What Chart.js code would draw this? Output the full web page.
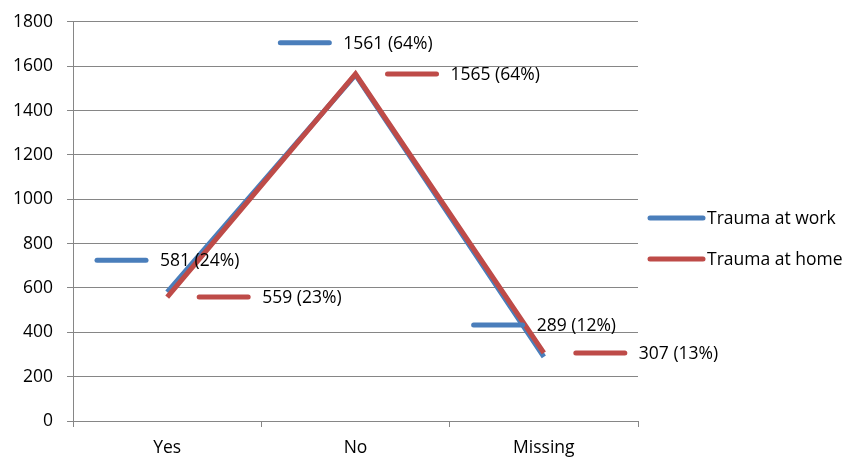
<!DOCTYPE html>
<html>
<head>
<meta charset="utf-8">
<script src="https://cdn.jsdelivr.net/npm/chart.js@4/dist/chart.umd.min.js"></script>
<style>
html,body{margin:0;padding:0;background:#fff;}
#wrap{width:865px;height:457px;position:relative;}
</style>
</head>
<body>
<div id="wrap"><canvas id="c" width="865" height="457"></canvas></div>
<script>
const categories = ["Yes", "No", "Missing"];
const seriesNames = ["Trauma at work", "Trauma at home"];
const workValues = [581, 1561, 289];
const homeValues = [559, 1565, 307];
const workPct = [24, 64, 12];
const homePct = [23, 64, 13];
const yTicks = [0, 200, 400, 600, 800, 1000, 1200, 1400, 1600, 1800];

const BLUE = "#4a7ebb";
const RED = "#be4b48";
const FONT = "'Open Sans', sans-serif";
const FS = 17.5;

const labelPlugin = {
  id: "dataLabelsKeys",
  afterDatasetsDraw(chart) {
    const ctx = chart.ctx;
    ctx.save();
    ctx.font = FS + "px " + FONT;
    ctx.textBaseline = "middle";
    ctx.fillStyle = "#000";
    ctx.lineCap = "round";
    ctx.lineWidth = 5;
    const keyLen = 53, gap = 12;
    chart.data.datasets.forEach((ds, di) => {
      const meta = chart.getDatasetMeta(di);
      meta.data.forEach((pt, i) => {
        const txt = ds.data[i] + " (" + ds.pct[i] + "%)";
        const tw = ctx.measureText(txt).width;
        let x0, y;
        if (ds.labelPos === "above") {
          const total = keyLen + gap + tw;
          x0 = pt.x - total / 2;
          y = pt.y - 32;
        } else {
          x0 = pt.x + 30;
          y = pt.y;
        }
        ctx.strokeStyle = ds.borderColor;
        ctx.beginPath();
        ctx.moveTo(x0 + 2, y);
        ctx.lineTo(x0 + keyLen - 2, y);
        ctx.stroke();
        ctx.fillText(txt, x0 + keyLen + gap, y + 1);
      });
    });
    // legend
    const items = [
      {name: seriesNames[0], color: BLUE, y: 218},
      {name: seriesNames[1], color: RED, y: 259}
    ];
    items.forEach(it => {
      ctx.strokeStyle = it.color;
      ctx.beginPath();
      ctx.moveTo(650, it.y);
      ctx.lineTo(703, it.y);
      ctx.stroke();
      ctx.fillText(it.name, 707, it.y + 1);
    });
    ctx.restore();
  }
};

new Chart(document.getElementById("c"), {
  type: "line",
  data: {
    labels: categories,
    datasets: [
      {label: seriesNames[0], data: workValues, pct: workPct, labelPos: "above",
       borderColor: BLUE, backgroundColor: BLUE, borderWidth: 5, pointRadius: 0,
       tension: 0, order: 1},
      {label: seriesNames[1], data: homeValues, pct: homePct, labelPos: "right",
       borderColor: RED, backgroundColor: RED, borderWidth: 5, pointRadius: 0,
       tension: 0, order: 0}
    ]
  },
  options: {
    responsive: false,
    animation: false,
    devicePixelRatio: 1,
    layout: {padding: {top: 0, left: -1, right: 227, bottom: -13}},
    plugins: {legend: {display: false}, tooltip: {enabled: false}},
    scales: {
      x: {
        offset: true,
        grid: {display: true, offset: true, drawOnChartArea: false, tickLength: 6, color: "#868686", lineWidth: 1},
        border: {display: true, color: "#868686", width: 1},
        ticks: {font: {family: FONT, size: FS}, color: "#000", padding: 11}
      },
      y: {
        min: 0, max: 1800,
        afterBuildTicks(axis) { axis.ticks = yTicks.map(v => ({value: v})); },
        grid: {color: "#868686", lineWidth: 1, tickLength: 6},
        border: {display: true, color: "#868686", width: 1},
        ticks: {font: {family: FONT, size: FS, lineHeight: 0.9}, color: "#000", padding: 14,
                callback: (v) => String(v)}
      }
    }
  },
  plugins: [labelPlugin]
});
</script>
</body>
</html>
